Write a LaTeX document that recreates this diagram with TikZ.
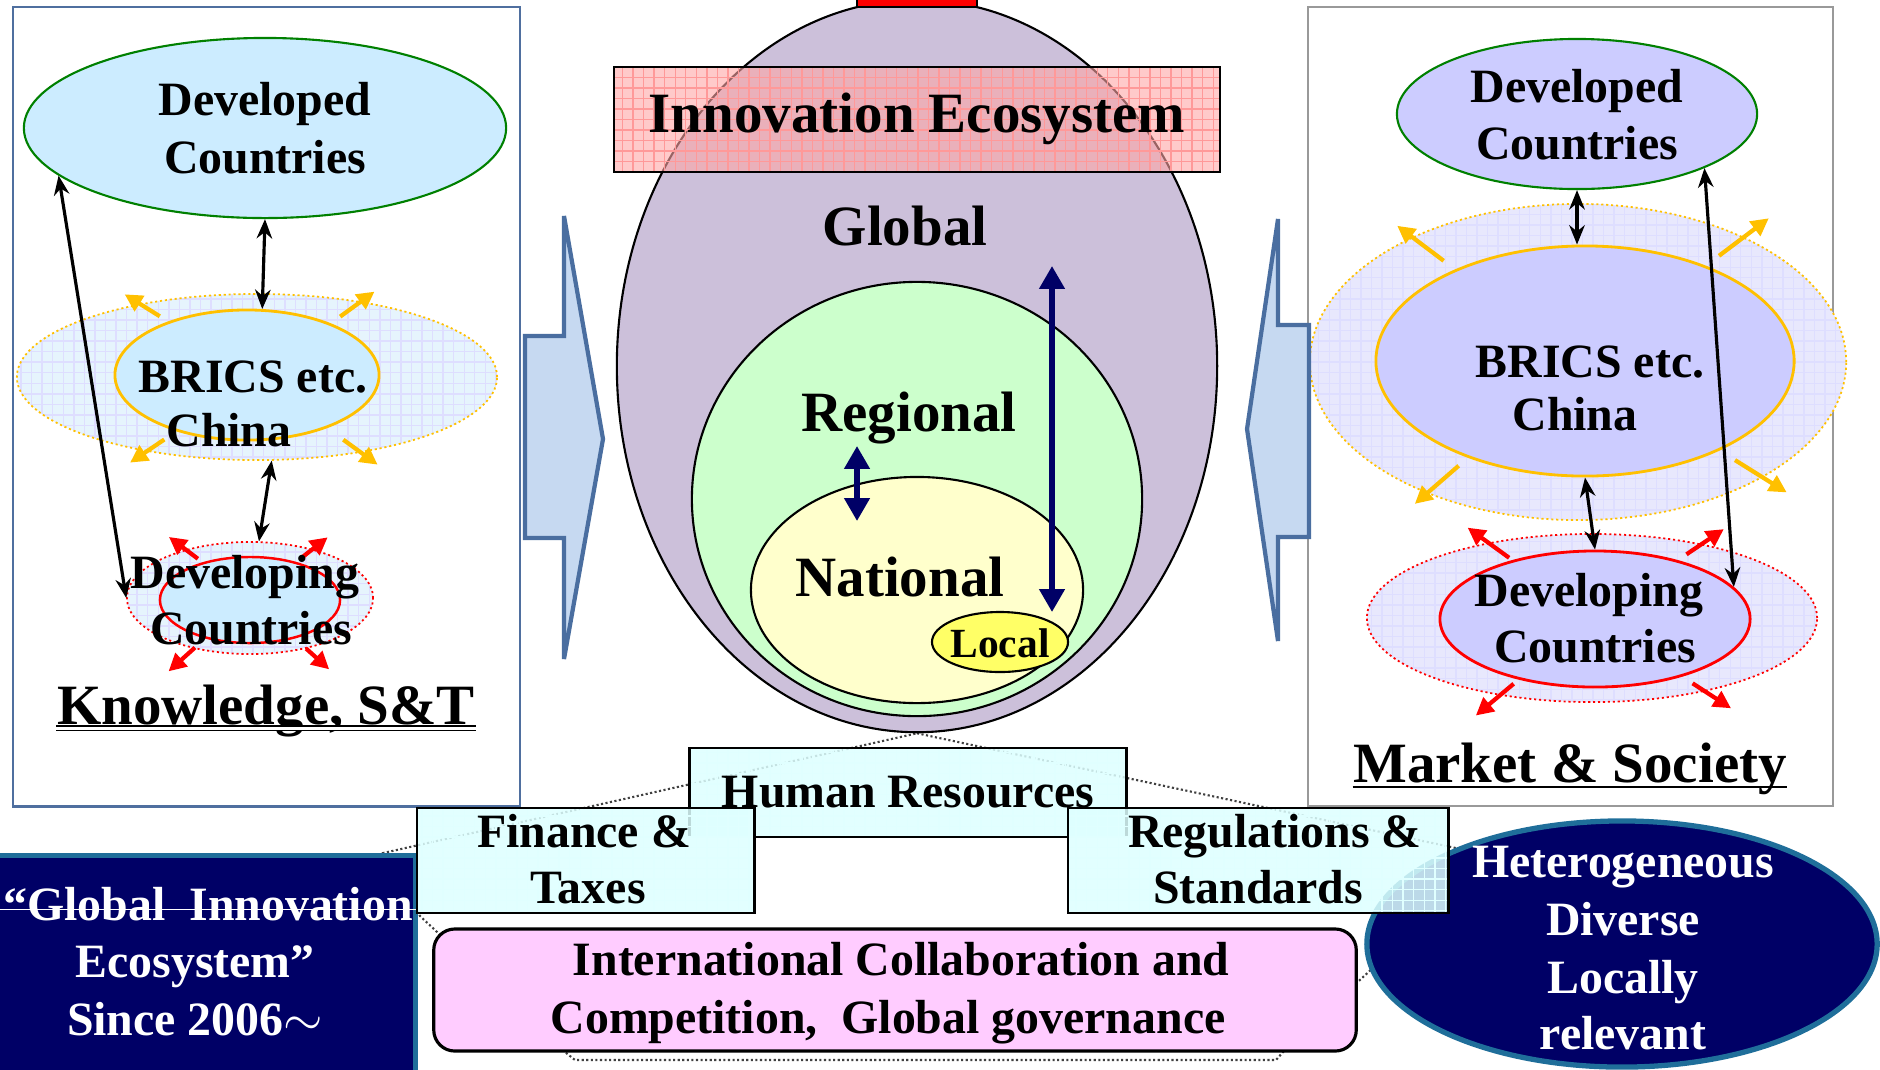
\documentclass[tikz,border=0pt]{standalone}
\usepackage{fontspec}
\setmainfont{Liberation Serif}
\usetikzlibrary{shapes.geometric, arrows.meta, calc, patterns, backgrounds}
\definecolor{globlav}{HTML}{CCC0DA}
\definecolor{reggreen}{HTML}{CCFFCC}
\definecolor{natyellow}{HTML}{FFFFCC}
\definecolor{locyellow}{HTML}{FFFF66}
\definecolor{kncyan}{HTML}{CCECFF}
\definecolor{knpale}{HTML}{E6F4FD}
\definecolor{mklav}{HTML}{CCCCFF}
\definecolor{mkpale}{HTML}{E8E8FD}
\definecolor{gold}{HTML}{FFC000}
\definecolor{devgreen}{HTML}{008000}
\definecolor{navyfill}{HTML}{000066}
\definecolor{rimblue}{HTML}{1F6E9A}
\definecolor{arrfill}{HTML}{C6D9F1}
\definecolor{arredge}{HTML}{4A6EA0}
\definecolor{panelblue}{HTML}{4F6F9F}
\definecolor{boxcyan}{HTML}{DDFFFF}
\definecolor{pinkfill}{HTML}{FFCCFF}
\newcommand{\lblfont}{\fontsize{13.6pt}{16pt}\selectfont\bfseries}
\newcommand{\ttlfont}{\fontsize{16.2pt}{19pt}\selectfont\bfseries}
\newcommand{\locfont}{\fontsize{11.8pt}{14pt}\selectfont\bfseries}

\begin{document}
\begin{tikzpicture}[x=0.01cm, y=-0.01cm,
    every node/.style={inner sep=0pt},
    lbl/.style={anchor=base, font=\lblfont},
    ttl/.style={anchor=base, font=\ttlfont},
    oval/.style={ellipse, draw, line width=0.6pt},
    halo/.style={ellipse, postaction={pattern=grid, pattern color=blue!13},
                 postaction={draw=#1, line width=0.5pt, dash pattern=on 0.6pt off 0.8pt}},
    link/.style={{Stealth[length=5.5pt,width=4.4pt]}-{Stealth[length=5.5pt,width=4.4pt]},
                 line width=0.9pt},
    spoke/.style={-{Triangle[length=5pt,width=5pt]}, line width=1.2pt},
    scalearr/.style={{Triangle[length=6.5pt,width=7pt]}-{Triangle[length=6.5pt,width=7pt]},
                 line width=1.5pt, navyfill},
    blockarr/.style={fill=arrfill, draw=arredge, line width=1.2pt},
    infobox/.style={fill=boxcyan, fill opacity=0.85,
                 postaction={pattern=grid, pattern color=cyan!12},
                 postaction={draw, line width=0.8pt}},
    callout/.style={draw=black!75, line width=0.6pt, dash pattern=on 0.6pt off 0.7pt}]
\useasboundingbox (0,0) rectangle (1880,1069);

\node[draw=panelblue, line width=0.6pt, minimum width=5.07cm, minimum height=7.99cm,
      anchor=north west] (kpanel) at (12,6) {};
\node[draw=black!40, line width=0.5pt, minimum width=5.25cm, minimum height=7.99cm,
      anchor=north west] (mpanel) at (1307,6) {};

\node[halo=gold, fill=knpale, minimum width=4.8cm, minimum height=1.66cm] (lbricsO) at (257,377) {};
\node[oval, fill=kncyan, draw=gold, line width=0.8pt, minimum width=2.64cm, minimum height=1.3cm] (lbrics) at (247,375) {};
\node[oval, fill=kncyan, draw=devgreen, minimum width=4.82cm, minimum height=1.8cm] (ldev) at (265,128) {};
\node[halo=red, fill=knpale, minimum width=2.46cm, minimum height=1.12cm] (ldvgO) at (250,598) {};
\node[oval, fill=kncyan, draw=red, line width=0.7pt, minimum width=1.8cm, minimum height=0.86cm] (ldvg) at (250,600) {};

\foreach \a/\s/\e in {148/.83/1.13, 36/.80/1.13, -146/.84/1.15, -36/.83/1.16}
  \draw[spoke, gold] ($(lbricsO.center)!\s!(lbricsO.\a)$) -- ($(lbricsO.center)!\e!(lbricsO.\a)$);
\foreach \a/\s/\e in {143/.81/1.26, 38/.81/1.24, -138/.98/1.45, -42/1.0/1.41}
  \draw[spoke, red] ($(ldvgO.center)!\s!(ldvgO.\a)$) -- ($(ldvgO.center)!\e!(ldvgO.\a)$);

\node[lbl] (ldevt1) at (265,115) {Developed};
\node[lbl] (ldevt2) at (265,173) {Countries};
\node[lbl] (lbrt1) at (253,392) {BRICS etc.};
\node[lbl] (lbrt2) at (229,446) {China};
\node[lbl] (ldvt1) at (245,588) {Developing};
\node[lbl] (ldvt2) at (251,644) {Countries};

\draw[link] (ldev.193) -- (ldvgO.west);
\draw[link] (ldev.south) -- (lbrics.77);
\draw[link] (lbricsO.-80) -- (ldvgO.81);

\node[ttl] (kst) at (266,724) {Knowledge, S\&T};
\draw[double, double distance=0.8pt, line width=0.5pt]
  ([yshift=-1.2pt]kst.base west) -- ([yshift=-1.2pt]kst.base east);

\node[halo=gold, fill=mkpale, minimum width=5.36cm, minimum height=3.16cm] (rbricsO) at (1578,362) {};
\node[oval, fill=mklav, draw=gold, line width=0.8pt, minimum width=4.18cm, minimum height=2.3cm] (rbrics) at (1585,361) {};
\node[oval, fill=mklav, draw=devgreen, minimum width=3.6cm, minimum height=1.5cm] (rdev) at (1577,114) {};
\node[halo=red, fill=mkpale, minimum width=4.5cm, minimum height=1.68cm] (rdvgO) at (1592,618) {};
\node[oval, fill=mklav, draw=red, line width=0.8pt, minimum width=3.1cm, minimum height=1.36cm] (rdvg) at (1595,619) {};

\foreach \a/\s/\e in {143/.81/1.09, 37/.85/1.15, -139/.79/1.08, -32/.85/1.13}
  \draw[spoke, gold] ($(rbricsO.center)!\s!(rbricsO.\a)$) -- ($(rbricsO.center)!\e!(rbricsO.\a)$);
\foreach \a/\s/\e in {144/.80/1.2, 34/.86/1.2, -140/.85/1.26, -33/.89/1.23}
  \draw[spoke, red] ($(rdvgO.center)!\s!(rdvgO.\a)$) -- ($(rdvgO.center)!\e!(rdvgO.\a)$);

\node[lbl] (rdevt1) at (1577,102) {Developed};
\node[lbl] (rdevt2) at (1577,159) {Countries};
\node[lbl] (rbrt1) at (1590,377) {BRICS etc.};
\node[lbl] (rbrt2) at (1575,430) {China};
\node[lbl] (rdvt1) at (1589,606) {Developing};
\node[lbl] (rdvt2) at (1595,662) {Countries};

\draw[link] (rdev.south) -- (rdev.south |- rbrics.north);
\draw[link] (rbrics.south) -- (rdvg.north);
\draw[link] (rdev.-23) -- (rdvg.13);

\node[ttl] (mks) at (1570,782) {Market \& Society};
\draw[line width=0.8pt] ([yshift=-1.4pt]mks.base west) -- ([yshift=-1.4pt]mks.base east);

\draw[blockarr] (525,336) -- (564,336) -- (564,216) -- (603,439) -- (564,659) -- (564,538) -- (525,538) -- cycle;
\draw[blockarr] (1309,325) -- (1278,325) -- (1278,219) -- (1247,429) -- (1278,641) -- (1278,537) -- (1309,537) -- cycle;

\node[oval, fill=globlav, minimum width=6cm, minimum height=7.32cm] (glob) at (917,366) {};
\node[oval, fill=reggreen, minimum width=4.5cm, minimum height=4.34cm] (reg) at (917,499) {};
\node[oval, fill=natyellow, minimum width=3.32cm, minimum height=2.26cm] (nat) at (917,590) {};
\node[oval, fill=locyellow, minimum width=1.36cm, minimum height=0.6cm] (loc) at (1000,642) {};
\node[draw, fill=red, line width=0.5pt, minimum width=1.2cm, minimum height=0.14cm] (tab) at (917,0) {};
\node[fill=red!35, fill opacity=0.6,
      postaction={pattern=grid, pattern color=red!40},
      postaction={draw, line width=0.6pt},
      minimum width=6.06cm, minimum height=1.05cm] (ierect) at (917,119.5) {};

\node[ttl] (iet) at (917,132) {Innovation Ecosystem};
\node[ttl] (globt) at (905,245) {Global};
\node[ttl] (regt) at (909,431) {Regional};
\node[ttl] (natt) at (900,596) {National};
\node[anchor=base, font=\locfont] (loct) at (1000,657) {Local};

\coordinate (regmid) at (857,446);
\coordinate (natmid) at (857,521);
\coordinate (globmid) at (1052,266);
\coordinate (locmid) at (1052,612);
\draw[scalearr] (regmid) -- (natmid);
\draw[scalearr] (globmid) -- (locmid);

\node[fill=navyfill, draw=rimblue, line width=1.5pt, minimum width=4.3cm, minimum height=2.4cm,
      anchor=north east] (gie) at (418,853) {};
\draw[white, line width=0.4pt] ($(gie.north west)!0.23!(gie.south west)$) -- ($(gie.north east)!0.23!(gie.south east)$);
\node[ellipse, fill=navyfill, draw=rimblue, line width=1.5pt, minimum width=5.1cm, minimum height=2.46cm] (het) at (1622,944) {};
\node[draw, line width=0.9pt, rounded corners=6pt, fill=pinkfill, minimum width=9.22cm, minimum height=1.22cm] (pink) at (895,990) {};

\node[infobox, minimum width=4.36cm, minimum height=0.89cm] (hr) at (908,792.5) {};
\node[infobox, minimum width=3.37cm, minimum height=1.05cm] (fin) at (585.5,860.5) {};
\node[infobox, minimum width=3.8cm, minimum height=1.05cm] (regs) at (1258,860.5) {};

\node[lbl] (hrt) at (908,807) {Human Resources};
\node[lbl] (fint1) at (584,847) {Finance \&};
\node[lbl] (fint2) at (588,903) {Taxes};
\node[lbl] (regst1) at (1275,847) {Regulations \&};
\node[lbl] (regst2) at (1258,903) {Standards};
\node[lbl] (pinkt1) at (901,975) {International Collaboration and};
\node[lbl] (pinkt2) at (888,1033) {Competition,\ \ Global governance};

\node[lbl, text=white] (giet1) at (208,920) {“Global\ \ Innovation};
\node[lbl, text=white] (giet2) at (195,977) {Ecosystem”};
\node[lbl, text=white] (giet3) at (195,1035) {Since 2006$\sim$};

\node[lbl, text=white] (hett1) at (1623,877) {Heterogeneous};
\node[lbl, text=white] (hett2) at (1623,935) {Diverse};
\node[lbl, text=white] (hett3) at (1623,993) {Locally};
\node[lbl, text=white] (hett4) at (1623,1049) {relevant};

\begin{scope}[on background layer]
\draw[callout] (glob.south) -- (het.150) -- (het.186) -- (1283,1052) -- (1276,1060)
  -- (575,1060) -- (565,1052) -- (420,916) -- ($(gie.north west)!0.92!(gie.north east)$) -- cycle;
\end{scope}
\end{tikzpicture}
\end{document}
